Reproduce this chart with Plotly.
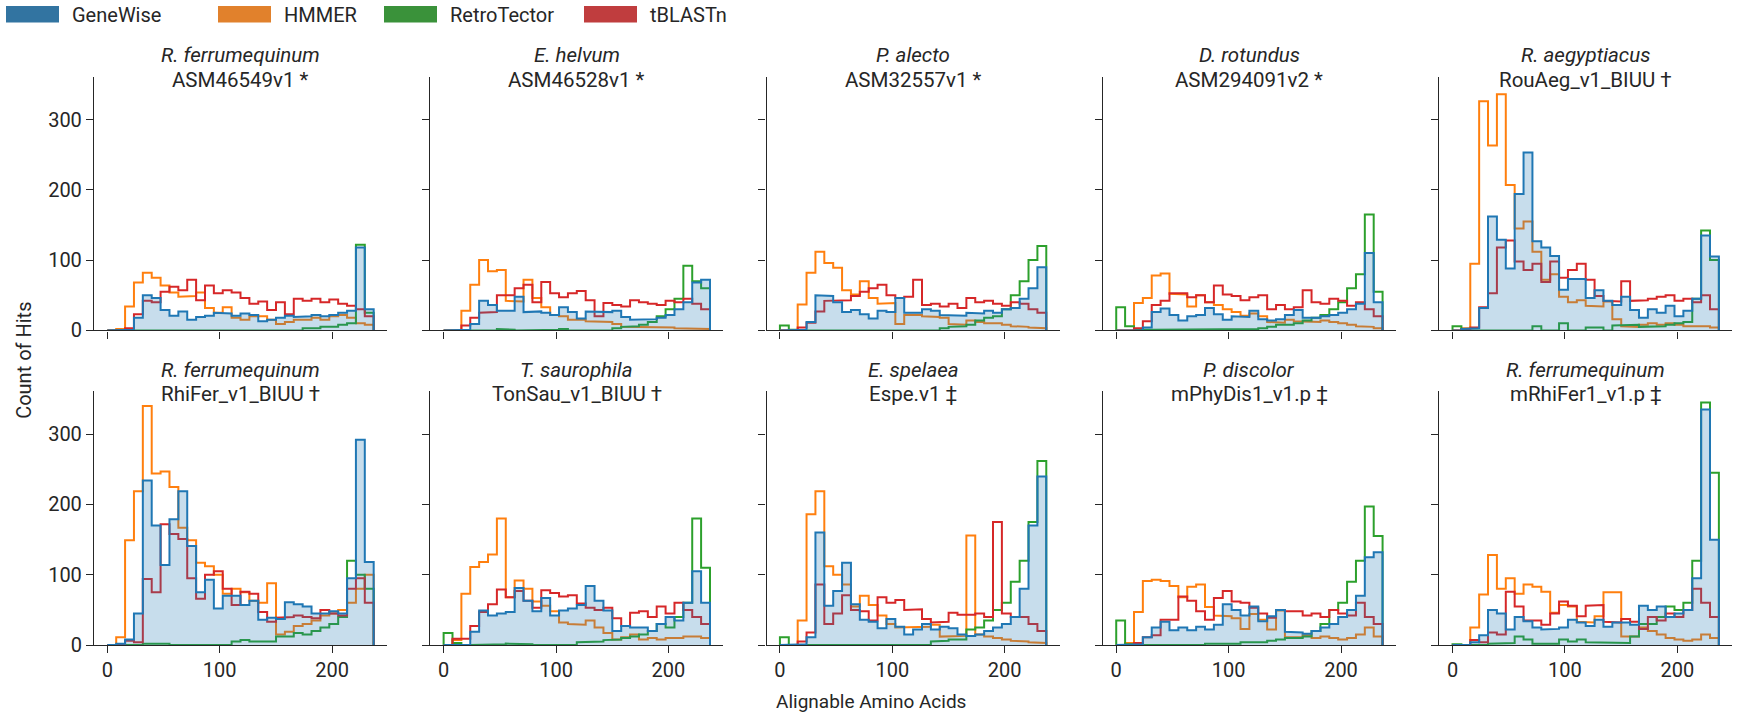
import numpy as np
import plotly.graph_objects as go

W, H = 1742, 718

# Shared histogram bins (alignable amino acids)
BIN_EDGES = np.linspace(0, 237, 31)

PANEL_SPECIES = ["R. ferrumequinum", "E. helvum", "P. alecto", "D. rotundus", "R. aegyptiacus",
                 "R. ferrumequinum", "T. saurophila", "E. spelaea", "P. discolor", "R. ferrumequinum"]
PANEL_ASSEMBLY = ["ASM46549v1 *", "ASM46528v1 *", "ASM32557v1 *", "ASM294091v2 *", "RouAeg_v1_BIUU \u2020",
                  "RhiFer_v1_BIUU \u2020", "TonSau_v1_BIUU \u2020", "Espe.v1 \u2021", "mPhyDis1_v1.p \u2021",
                  "mRhiFer1_v1.p \u2021"]

# Counts per bin, one row per panel
GENEWISE = [
    [0,0,1,18,50,46,29,21,27,15,19,21,25,24,21,24,22,13,15,18,21,19,20,22,20,22,25,28,118,30],
    [0,0,1,9,42,36,28,28,48,26,27,25,22,33,26,17,27,26,26,28,19,15,15,16,18,22,30,40,68,72],
    [0,0,1,12,50,49,40,26,29,23,17,28,26,46,25,25,30,28,22,22,21,25,24,28,25,30,32,45,60,90],
    [0,0,0,4,26,31,22,14,20,22,32,23,15,20,19,28,16,14,16,22,29,18,18,20,22,25,30,38,110,40],
    [0,2,3,32,162,129,88,194,253,127,118,106,58,73,73,46,57,42,36,48,29,18,30,25,35,20,28,45,135,105],
    [0,2,8,45,234,170,114,179,219,141,75,93,52,70,70,57,63,36,39,37,61,58,55,45,45,48,45,95,292,118],
    [0,0,0,19,49,42,45,47,81,63,48,67,42,49,52,57,84,63,49,20,27,25,25,20,30,40,35,60,105,60],
    [0,0,1,11,160,56,77,117,58,36,33,24,37,26,15,22,30,22,26,24,15,13,15,20,25,30,40,80,170,240],
    [0,0,1,11,25,33,21,25,21,26,22,29,58,50,42,55,34,41,50,19,18,16,20,25,30,40,50,70,125,132],
    [0,0,4,14,50,45,22,40,34,25,22,23,25,36,32,27,36,26,32,32,29,56,50,55,40,45,50,95,335,150],
]
HMMER = [
    [0,2,34,68,82,75,64,54,48,49,54,32,25,33,18,15,20,20,15,9,12,15,15,18,15,20,22,18,10,8],
    [0,0,28,65,100,84,86,42,41,72,46,33,22,20,15,15,13,13,12,9,5,5,5,5,4,4,3,3,2,2],
    [0,0,37,82,112,96,89,57,51,70,46,38,39,9,22,22,20,19,18,9,8,14,12,10,10,8,6,5,4,3],
    [0,0,39,46,78,81,52,51,34,50,40,36,30,26,21,24,20,12,11,15,13,12,12,14,12,10,8,6,5,3],
    [0,3,95,326,263,336,207,145,155,112,72,80,48,40,43,35,34,41,16,6,5,8,10,8,10,8,6,6,6,4],
    [0,11,149,219,340,244,247,225,167,149,117,112,100,73,80,75,63,60,88,15,19,27,30,35,42,45,50,60,80,100],
    [0,7,73,111,118,129,180,68,92,80,62,56,48,32,30,29,35,25,17,8,11,15,8,10,8,10,10,12,12,10],
    [0,0,35,186,219,112,100,86,55,70,57,42,30,25,25,26,26,29,12,13,13,156,15,12,10,8,6,5,4,3],
    [0,3,47,91,93,91,84,68,83,86,54,42,41,38,23,44,36,22,49,11,11,14,10,12,10,8,10,15,25,12],
    [0,0,25,72,128,80,95,73,86,83,76,46,57,55,33,32,41,75,75,12,12,25,20,15,10,8,6,8,15,10],
]
RETROTECTOR = [
    [0,0,0,0,0,1,1,0,0,0,0,0,1,0,0,0,1,0,0,1,0,0,3,3,5,5,8,10,122,25],
    [0,0,0,0,0,0,2,1,0,0,0,0,1,2,0,0,0,0,0,3,5,6,8,12,20,30,45,92,70,60],
    [7,1,0,0,0,1,0,0,0,0,0,1,0,0,1,0,1,0,3,5,6,8,14,18,20,30,50,70,100,120],
    [33,6,2,1,1,1,1,1,1,1,2,2,1,1,1,2,3,5,8,8,10,14,18,22,30,40,60,80,165,55],
    [6,0,0,0,0,0,0,0,0,6,0,0,10,0,0,4,4,0,7,7,8,5,6,6,8,10,12,45,142,100],
    [0,0,0,0,2,2,2,0,0,0,0,0,0,0,5,7,5,6,5,12,12,17,15,20,25,30,40,120,100,80],
    [17,3,0,0,0,0,1,2,2,1,0,0,0,0,0,4,4,5,7,8,10,12,15,20,30,25,40,60,180,110],
    [11,0,0,0,0,1,1,0,0,0,0,0,1,1,0,0,0,5,6,8,8,22,25,35,50,60,90,120,175,262],
    [35,1,0,0,0,0,0,0,0,0,2,2,2,2,4,4,4,6,8,10,10,12,20,30,50,60,90,120,197,155],
    [1,0,0,0,2,2,3,12,8,2,2,2,8,5,8,4,3,4,3,3,12,30,30,40,55,50,60,120,345,245],
]
TBLASTN = [
    [0,0,3,23,42,40,55,62,57,72,43,64,53,57,54,46,38,41,29,40,23,45,42,45,40,44,38,35,30,20],
    [0,0,7,18,25,26,50,50,60,65,40,69,53,47,53,56,43,20,39,36,34,43,40,38,36,42,40,45,38,30],
    [0,0,4,11,27,42,42,43,49,55,60,65,50,46,48,72,36,38,34,38,32,46,40,42,38,35,40,38,30,25],
    [0,0,3,13,36,42,53,53,47,50,40,64,51,49,43,47,50,30,36,30,33,57,40,38,45,42,35,40,30,20],
    [0,2,4,33,53,118,128,98,86,95,69,98,75,86,95,72,49,42,41,70,42,43,45,48,50,42,45,40,50,30],
    [0,0,6,4,94,75,172,158,151,95,66,100,105,80,57,76,73,47,33,39,40,42,40,38,50,45,42,80,95,60],
    [0,9,9,27,47,58,79,68,77,63,53,78,74,69,71,59,53,50,53,38,27,46,48,40,55,45,60,50,40,30],
    [0,0,5,18,86,30,45,71,50,48,35,68,60,64,50,51,37,32,33,46,43,43,45,40,175,45,40,40,30,20],
    [0,0,3,11,14,36,36,69,63,48,36,67,77,62,60,53,45,39,50,48,48,42,45,40,50,45,42,60,40,30],
    [0,0,7,4,18,15,76,55,35,35,29,45,62,56,41,56,57,33,32,37,33,23,40,35,45,40,50,80,60,40],
]

METHODS = ["GeneWise", "HMMER", "RetroTector", "tBLASTn"]
LINE_COLORS = {"GeneWise": "#1f77b4", "HMMER": "#ff7f0e", "RetroTector": "#2ca02c", "tBLASTn": "#d62728"}
PATCH_COLORS = {"GeneWise": "#3274a1", "HMMER": "#e1812c", "RetroTector": "#3a923a", "tBLASTn": "#c03d3e"}

FONT = "Roboto"
INK = "#262626"

# Panel geometry in pixels
AX_LEFT0, AX_STEP, AX_W = 94, 336.3, 293
ROW_TOP = [78, 398]
ROW_BOTTOM = [336, 656]
X_RANGE = [-11.85, 248.85]
Y_RANGE = [0, 361]


def step_outline(edges, counts):
    xs, ys = [edges[0]], [0]
    for k, c in enumerate(counts):
        xs += [edges[k], edges[k + 1]]
        ys += [c, c]
    xs.append(edges[-1])
    ys.append(0)
    return xs, ys


fig = go.Figure()
layout = {}
annotations = []
shapes = []

for i in range(10):
    row, col = divmod(i, 5)
    n = i + 1
    xname = "x" if n == 1 else f"x{n}"
    yname = "y" if n == 1 else f"y{n}"
    series = {"GeneWise": GENEWISE[i], "HMMER": HMMER[i],
              "RetroTector": RETROTECTOR[i], "tBLASTn": TBLASTN[i]}

    for m in ["HMMER", "RetroTector", "tBLASTn"]:
        xs, ys = step_outline(BIN_EDGES, series[m])
        fig.add_trace(go.Scatter(x=xs, y=ys, mode="lines", name=m,
                                 line=dict(color=LINE_COLORS[m], width=2),
                                 xaxis=xname, yaxis=yname, showlegend=False, hoverinfo="skip"))
    xs, ys = step_outline(BIN_EDGES, series["GeneWise"])
    fig.add_trace(go.Scatter(x=xs, y=ys, mode="lines", name="GeneWise",
                             line=dict(color=LINE_COLORS["GeneWise"], width=2),
                             fill="tozeroy", fillcolor="rgba(31,119,180,0.25)",
                             xaxis=xname, yaxis=yname, showlegend=False, hoverinfo="skip"))

    x0 = AX_LEFT0 + AX_STEP * col
    x1 = x0 + AX_W
    top, bot = ROW_TOP[row], ROW_BOTTOM[row]
    layout[f"xaxis{n}"] = dict(
        domain=[x0 / W, x1 / W], range=X_RANGE, anchor=yname,
        tickmode="array", tickvals=[0, 100, 200], showticklabels=(row == 1),
        ticks="outside", ticklen=7, tickwidth=1.25, tickcolor=INK,
        showline=True, linecolor=INK, linewidth=1.25,
        showgrid=False, zeroline=False,
        tickfont=dict(family=FONT, size=20, color=INK),
    )
    layout[f"yaxis{n}"] = dict(
        domain=[1 - bot / H, 1 - top / H], range=Y_RANGE, anchor=xname,
        tickmode="array", tickvals=[0, 100, 200, 300], showticklabels=(col == 0),
        ticks="outside", ticklen=7, tickwidth=1.25, tickcolor=INK,
        showline=True, linecolor=INK, linewidth=1.25,
        showgrid=False, zeroline=False,
        tickfont=dict(family=FONT, size=20, color=INK),
    )

    cx = (x0 + x1) / 2 / W
    annotations.append(dict(text=f"<i>{PANEL_SPECIES[i]}</i>", x=cx, y=1 - (top - 22) / H,
                            xref="paper", yref="paper", xanchor="center", yanchor="middle",
                            showarrow=False, font=dict(family=FONT, size=20.5, color=INK)))
    annotations.append(dict(text=PANEL_ASSEMBLY[i], x=cx, y=1 - (top + 3) / H,
                            xref="paper", yref="paper", xanchor="center", yanchor="middle",
                            showarrow=False, font=dict(family=FONT, size=20.5, color=INK)))

# Figure-level axis titles
annotations.append(dict(text="Alignable Amino Acids", x=871 / W, y=1 - 713 / H, xref="paper", yref="paper",
                        xanchor="center", yanchor="middle", showarrow=False,
                        font=dict(family=FONT, size=19, color=INK)))
annotations.append(dict(text="Count of Hits", x=24 / W, y=1 - 367 / H, xref="paper", yref="paper",
                        xanchor="center", yanchor="middle", textangle=-90, showarrow=False,
                        font=dict(family=FONT, size=20, color=INK)))

# Legend row across the top
LEGEND_BOX_X = [6, 218, 384, 584]
for m, bx in zip(METHODS, LEGEND_BOX_X):
    shapes.append(dict(type="rect", xref="paper", yref="paper",
                       x0=bx / W, x1=(bx + 53) / W, y0=1 - 23 / H, y1=1 - 6 / H,
                       fillcolor=PATCH_COLORS[m], line=dict(width=0)))
    annotations.append(dict(text=m, x=(bx + 64) / W, y=1 - 15 / H, xref="paper", yref="paper",
                            xanchor="left", yanchor="middle", showarrow=False,
                            font=dict(family=FONT, size=20, color=INK)))

fig.update_layout(
    width=W, height=H,
    margin=dict(l=0, r=0, t=0, b=0),
    paper_bgcolor="white", plot_bgcolor="white",
    showlegend=False,
    annotations=annotations, shapes=shapes,
    **layout,
)

fig.write_html("out.html")
